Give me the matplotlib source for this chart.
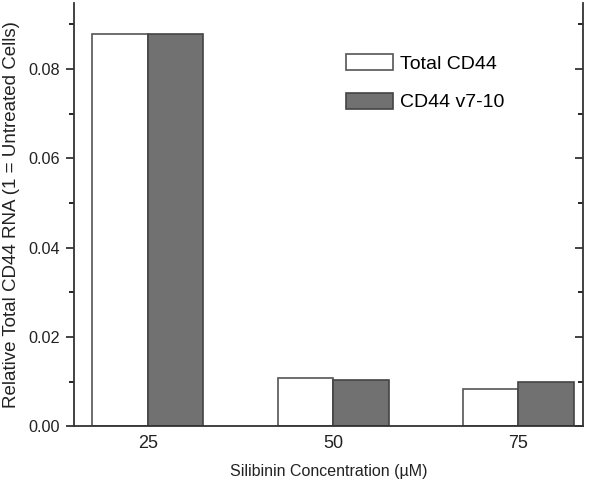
import matplotlib
matplotlib.use("Agg")
import matplotlib.pyplot as plt
import numpy as np
from matplotlib.ticker import MultipleLocator

categories = ["25", "50", "75"]
total_cd44 = [0.0878, 0.0109, 0.0084]
cd44_v7_10 = [0.0878, 0.0104, 0.0099]
yticks = [0.00, 0.02, 0.04, 0.06, 0.08]

plt.rcParams['font.family'] = ['Liberation Sans', 'DejaVu Sans']

fig = plt.figure(figsize=(6, 4.86), dpi=100)
ax = fig.add_axes([0.123, 0.123, 0.849, 0.871])

x = np.arange(len(categories))
w = 0.3
ax.bar(x - w/2, total_cd44, w, color='white', edgecolor='#555555', linewidth=1.2, label='Total CD44')
ax.bar(x + w/2, cd44_v7_10, w, color='#717171', edgecolor='#444444', linewidth=1.2, label='CD44 v7-10')

ax.set_xlim(-0.40, 2.35)
ax.set_ylim(0, 0.0948)
ax.set_xticks(x)
ax.set_xticklabels(categories)
ax.set_yticks(yticks)
ax.set_yticklabels([f"{v:.2f}" for v in yticks])
ax.yaxis.set_minor_locator(MultipleLocator(0.01))

ax.spines['top'].set_visible(False)
for s in ['left', 'right', 'bottom']:
    ax.spines[s].set_linewidth(1.3)
    ax.spines[s].set_color('#333333')

ax.tick_params(axis='x', length=0, labelsize=13, pad=6, colors='#222222')
ax.tick_params(axis='y', which='major', direction='out', length=6, width=1.2, labelsize=11.7, colors='#222222', right=True, pad=4)
ax.tick_params(axis='y', which='minor', direction='out', length=3.5, width=1.2, right=True)
# right ticks inward
for t in ax.yaxis.get_major_ticks() + ax.yaxis.get_minor_ticks():
    t.tick2line.set_marker(matplotlib.lines.TICKLEFT)

ax.set_xlabel('Silibinin Concentration (\u00b5M)', fontsize=11.5, labelpad=9, color='#222222')
ax.set_ylabel('Relative Total CD44 RNA (1 = Untreated Cells)', fontsize=13.5, labelpad=6, color='#222222')

leg = ax.legend(loc='upper left', bbox_to_anchor=(0.5, 0.92), frameon=False, fontsize=14,
                handlelength=2.4, handleheight=0.9, labelspacing=1.0, handletextpad=0.4)

fig.savefig('out.png', dpi=100)
